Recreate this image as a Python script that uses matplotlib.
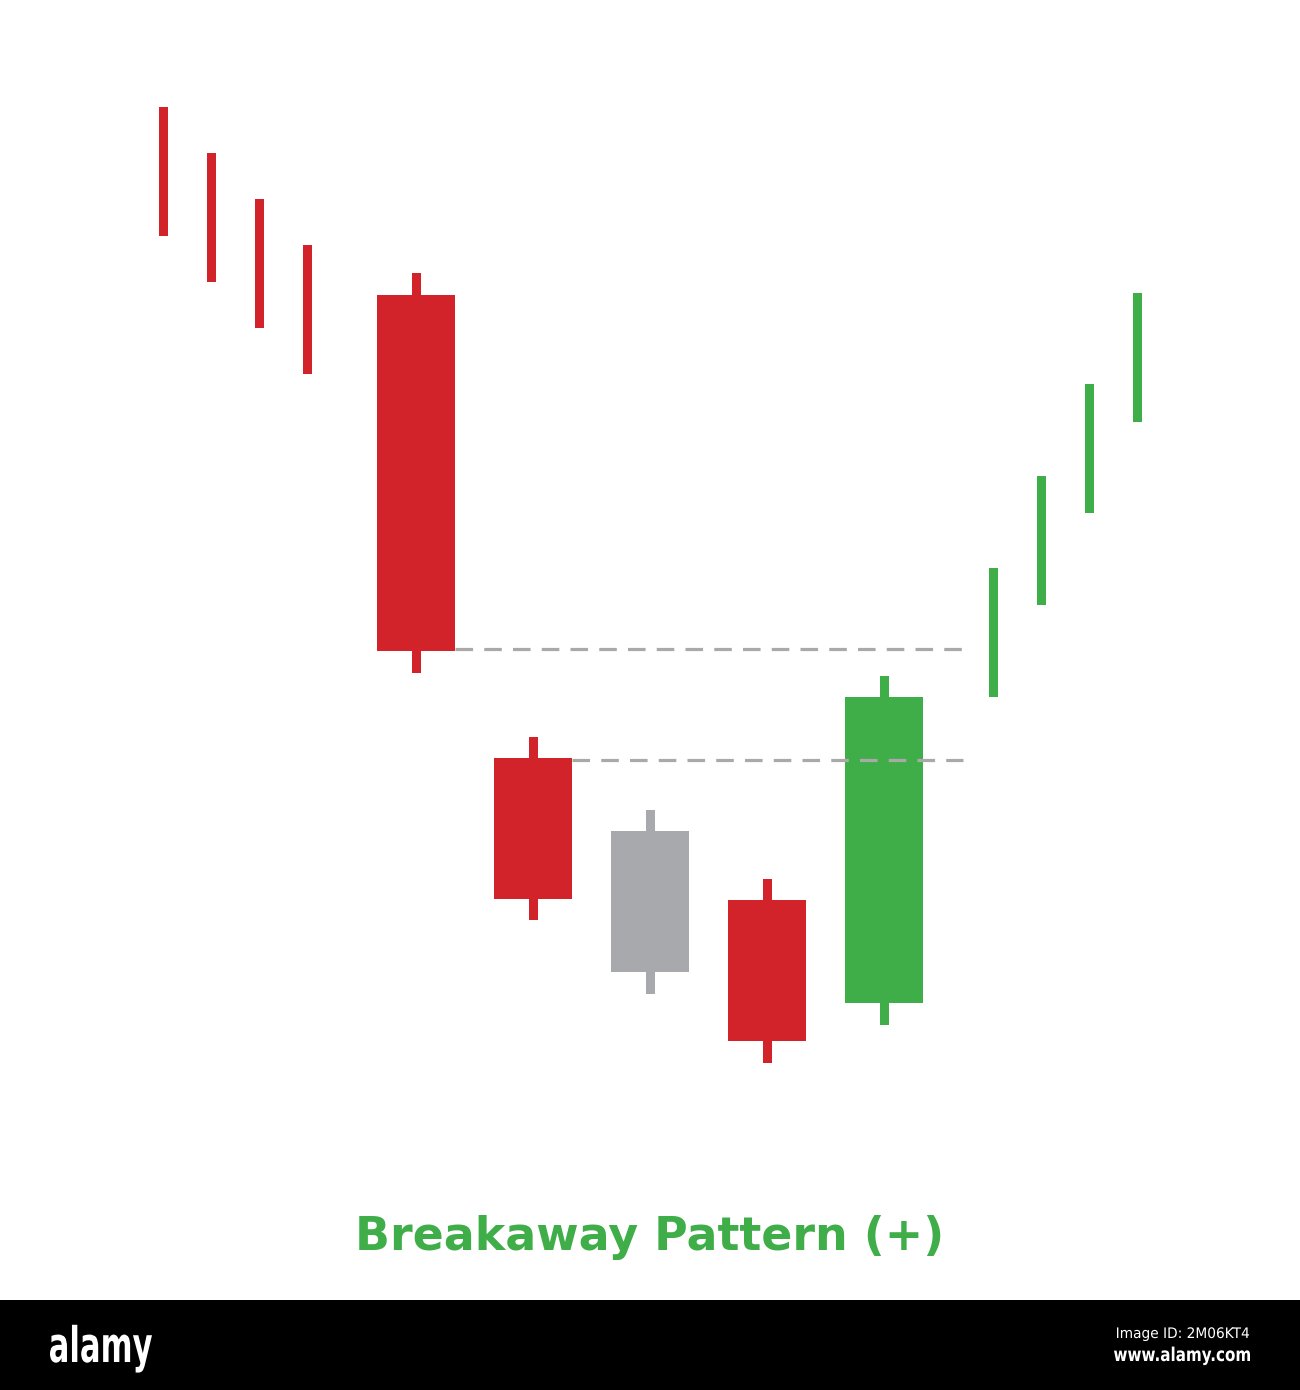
"""Breakaway pattern (+) candlestick illustration."""

import matplotlib.pyplot as plt
from matplotlib.font_manager import FontProperties
from matplotlib.patches import PathPatch, Rectangle
from matplotlib.textpath import TextPath
from matplotlib.transforms import Affine2D

RED = "#d2232a"
GREEN = "#3fae49"
GRAY = "#a7a9ac"
DASH = "#a9a9a9"

# leading downtrend (thin bars)
down_high = [119.3, 114.7, 110.1, 105.5]
down_low = [106.4, 101.8, 97.2, 92.6]

# pattern candles
candle_open = [100.5, 54.2, 46.9, 40.0, 29.7]
candle_close = [64.9, 40.1, 32.8, 25.9, 60.3]
candle_high = [102.7, 56.3, 49.0, 42.1, 62.4]
candle_low = [62.7, 38.0, 30.6, 23.7, 27.5]
candle_kind = ["down", "down", "neutral", "down", "up"]

# following uptrend (thin bars)
up_low = [60.3, 69.5, 78.7, 87.8]
up_high = [73.2, 82.4, 91.6, 100.7]

TITLE = "Breakaway Pattern (+)"

KIND_COLOR = {"down": RED, "up": GREEN, "neutral": GRAY}

W, H = 1300, 1390


def fitted_text(fig, s, x_left, x_right, baseline, size_px, weight="normal",
                family="DejaVu Sans"):
    """Draw white text squeezed horizontally to fit between x_left and x_right (pixels)."""
    tp = TextPath((0, 0), s, size=size_px, prop=FontProperties(family=family, weight=weight))
    bb = tp.get_extents()
    sx = (x_right - x_left) / bb.width
    trans = (Affine2D().translate(-bb.x0, 0).scale(sx, 1)
             .translate(x_left, H - baseline).scale(1 / W, 1 / H) + fig.transFigure)
    fig.patches.append(PathPatch(tp, transform=trans, facecolor="white",
                                 edgecolor="none", lw=0))


def main() -> None:
    fig = plt.figure(figsize=(13, 13.9), dpi=100)
    fig.patch.set_facecolor("white")
    ax = fig.add_axes([0, 90 / H, 1, 1300 / H])
    ax.set_xlim(0, 1300)
    ax.set_ylim(0, 130)
    ax.axis("off")

    thin = 9
    body_w = 78

    down_x = [163 + 48 * i for i in range(len(down_high))]
    for x, hi, lo in zip(down_x, down_high, down_low):
        ax.bar(x, hi - lo, bottom=lo, width=thin, color=RED, linewidth=0)

    candle_x = [416 + 117 * i for i in range(len(candle_open))]
    for x, o, c, h, l, k in zip(candle_x, candle_open, candle_close,
                                candle_high, candle_low, candle_kind):
        col = KIND_COLOR[k]
        ax.bar(x, h - l, bottom=l, width=thin, color=col, linewidth=0, zorder=2)
        ax.bar(x, abs(c - o), bottom=min(o, c), width=body_w, color=col,
               linewidth=0, zorder=3)

    up_x = [993 + 48 * i for i in range(len(up_low))]
    for x, lo, hi in zip(up_x, up_low, up_high):
        ax.bar(x, hi - lo, bottom=lo, width=thin, color=GREEN, linewidth=0)

    # gap levels
    end_x = 963
    ax.plot([candle_x[0] + body_w / 2, end_x], [candle_close[0] + 0.2] * 2,
            color=DASH, lw=2.3, dashes=(5.5, 3.5), zorder=4)
    ax.plot([candle_x[1] + body_w / 2, end_x], [candle_open[1] - 0.2] * 2,
            color=DASH, lw=2.3, dashes=(5.5, 3.5), zorder=4)

    fig.text(0.5, 1 - 1238 / H, TITLE, ha="center", va="center",
             fontsize=33, fontweight="bold", color=GREEN, family="DejaVu Sans")

    # watermark strip
    fig.patches.append(Rectangle((0, 0), 1, 90 / H, transform=fig.transFigure,
                                 facecolor="black", edgecolor="none"))
    fitted_text(fig, "alamy", 50, 152, 1362, 49, weight="bold")
    fitted_text(fig, "Image ID: 2M06KT4", 1117, 1249, 1338, 14.5)
    fitted_text(fig, "www.alamy.com", 1114, 1250, 1361, 19, weight="bold")

    fig.savefig("out.png", dpi=100, facecolor="white")


if __name__ == "__main__":
    main()
